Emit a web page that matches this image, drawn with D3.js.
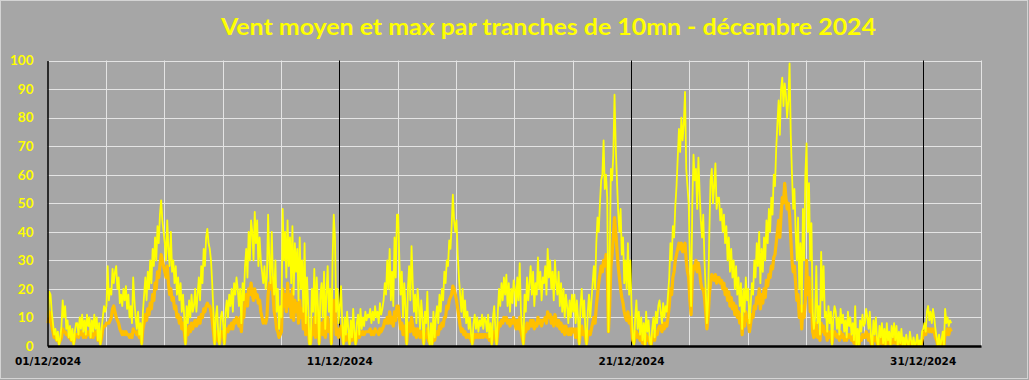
<!DOCTYPE html>
<html><head><meta charset="utf-8">
<script src="https://cdn.jsdelivr.net/npm/d3@7"></script>
<style>html,body{margin:0;padding:0;background:#a6a6a6;overflow:hidden}</style>
</head><body><svg id="c" width="1029" height="380"></svg>
<script>
// Hourly values (24 per day), 1 to 31 December 2024, km/h
const ventMax = [
10,19,18,12,8,4,6,2,5,0,3,7,16,10,14,6,9,3,7,2,6,0,5,8,
8,4,10,6,11,5,9,4,11,7,10,3,9,5,11,6,10,2,8,0,6,10,14,12,
14,28,16,20,18,27,22,26,28,20,24,15,18,14,20,16,21,13,18,10,14,8,24,16,
10,6,12,4,8,0,12,18,24,16,26,20,30,22,34,28,38,30,42,36,46,51,44,40,
36,30,44,34,28,40,26,30,22,28,18,24,16,22,12,18,10,0,14,8,16,10,18,12,
14,20,12,18,24,16,28,22,34,28,38,41,36,34,30,22,12,0,10,14,4,0,10,12,
8,0,12,16,10,18,14,20,12,22,18,24,20,14,20,8,22,16,28,34,24,40,30,44,
40,30,47,36,44,28,38,30,26,22,28,20,24,46,30,22,40,24,18,30,12,20,6,14,
10,48,30,40,24,44,28,38,22,42,18,36,26,34,16,38,20,30,12,36,8,24,14,0,
0,20,12,27,8,24,14,0,18,22,10,26,6,18,28,12,20,0,30,46,38,12,20,8,
14,21,8,0,10,4,12,6,0,9,3,13,5,0,8,11,4,13,6,10,7,12,9,11,
10,13,8,12,9,14,10,12,8,15,11,13,16,22,18,30,20,34,16,26,14,38,24,46,
46,30,18,26,10,22,14,0,20,28,16,35,22,12,18,8,20,14,6,16,10,0,12,8,
19,4,0,8,0,12,3,10,14,8,18,12,20,16,26,22,30,28,37,34,42,53,44,40,
44,32,24,18,12,20,10,16,8,12,6,10,4,0,8,11,6,10,5,9,7,11,6,10,
9,5,11,3,8,0,10,14,6,0,12,20,14,22,16,24,18,25,14,22,12,20,15,23,
20,14,24,16,29,12,6,0,18,12,24,16,22,28,18,26,14,22,18,31,20,26,16,24,
22,28,18,34,24,30,20,26,16,30,22,18,26,14,22,12,20,10,18,14,8,16,10,18,
12,18,8,16,10,0,14,20,10,16,6,0,12,18,10,16,22,28,20,36,45,40,50,58,
60,72,55,60,52,5,30,62,58,67,88,70,58,47,40,48,32,38,22,30,20,36,18,30,
14,3,0,10,16,6,12,4,10,2,8,0,12,5,9,2,0,6,10,3,12,8,14,16,
12,8,15,10,14,12,18,24,36,30,42,38,49,56,66,76,68,80,72,78,89,62,56,50,
30,14,50,67,58,62,48,66,54,44,38,46,30,20,8,16,40,58,62,50,56,64,48,52,
52,44,48,40,46,36,42,30,38,26,34,24,30,20,28,18,24,14,22,6,20,12,24,16,
20,8,14,22,18,30,24,36,28,40,22,34,26,38,30,44,36,48,40,52,46,60,56,69,
78,86,74,90,94,84,92,88,80,86,99,74,60,48,55,40,30,45,20,36,12,48,30,60,
71,40,57,30,43,12,6,10,28,8,14,4,33,16,28,10,12,5,14,8,12,0,10,14,
12,6,10,4,13,8,11,5,9,3,12,7,10,4,8,2,14,0,6,0,9,5,11,7,
8,13,10,6,12,3,0,9,4,10,2,0,7,3,8,1,6,0,8,2,5,0,7,3,
8,2,7,0,5,1,6,0,3,0,4,1,0,5,2,0,3,0,1,4,0,2,0,5,
6,8,5,12,14,9,12,8,13,10,6,3,0,4,0,2,5,0,13,8,10,7,9,8
];
const ventMoyen = [
8,12,10,7,5,3,4,2,3,1,2,3,6,5,5,4,4,3,3,2,3,1,3,4,
4,3,5,4,5,3,4,3,5,4,5,3,4,3,5,4,5,2,4,1,3,6,7,7,
8,8,8,9,10,13,14,12,10,9,8,6,5,4,5,4,5,4,4,3,4,3,6,5,
5,4,5,3,4,1,6,8,11,9,13,11,15,13,18,16,22,20,26,24,28,32,30,28,
26,24,28,22,18,20,16,17,13,14,10,11,8,10,6,8,5,1,6,4,7,5,8,6,
8,9,7,8,10,8,11,10,13,12,14,15,14,14,12,9,5,1,4,5,2,1,4,5,
4,1,5,6,5,7,6,8,6,9,8,10,9,7,10,5,12,10,16,18,14,20,18,22,
18,16,20,17,18,15,16,12,10,8,9,8,10,18,22,20,24,18,12,10,6,5,3,4,
5,20,14,18,12,22,14,18,10,20,9,16,12,15,8,16,10,13,6,14,4,10,6,1,
1,6,4,10,3,14,6,1,6,8,4,9,3,6,10,5,7,1,10,16,14,4,6,3,
5,7,4,1,4,2,4,3,1,4,2,5,3,1,3,5,3,5,4,5,4,5,5,5,
5,6,4,5,4,6,5,5,4,6,5,6,7,9,8,10,8,12,8,10,7,12,9,14,
14,10,6,8,4,7,5,1,6,8,5,10,7,4,6,3,6,5,3,5,4,1,4,3,
6,2,1,3,1,4,2,4,5,4,7,6,8,7,10,10,14,13,16,17,18,21,20,18,
16,13,10,7,5,6,4,5,3,4,3,4,2,1,3,4,3,4,3,4,3,4,3,4,
4,3,4,2,3,1,4,5,3,1,5,8,7,9,8,10,9,10,8,9,7,9,8,10,
8,6,9,6,10,5,3,1,6,5,8,6,7,9,7,9,6,8,7,10,8,9,7,9,
9,10,8,12,10,11,8,10,7,11,9,7,9,6,8,5,7,4,7,5,4,6,4,6,
5,6,3,6,4,1,5,7,4,5,3,1,4,5,4,6,8,10,8,14,18,22,25,28,
26,30,28,32,28,5,14,28,32,38,45,40,34,28,24,20,17,15,12,10,9,12,8,10,
6,2,1,4,5,3,4,2,4,1,3,0,4,2,3,1,0,3,4,2,5,4,6,7,
7,5,8,6,8,7,10,14,20,18,24,26,30,32,34,36,34,36,33,34,36,30,26,24,
16,11,24,28,27,30,26,29,26,22,20,20,17,12,6,10,18,22,25,24,23,25,22,24,
24,22,23,20,22,18,20,16,19,14,17,13,15,11,14,10,12,8,11,4,10,7,12,9,
9,5,8,11,10,14,13,17,15,20,13,18,15,20,17,23,21,25,24,28,27,31,32,36,
40,44,38,46,52,50,57,52,48,50,46,38,30,26,28,22,16,18,10,14,6,14,10,16,
30,18,24,12,16,5,3,4,8,3,5,2,8,5,7,4,5,2,5,3,5,1,4,5,
4,3,4,2,5,3,4,2,3,2,4,3,4,2,3,1,5,0,2,0,3,2,4,3,
3,5,4,2,4,1,0,3,2,3,1,0,2,1,3,0,2,0,3,1,2,0,2,1,
3,1,3,0,2,0,2,0,1,0,1,0,0,2,1,0,1,0,0,1,0,1,0,2,
4,5,4,6,6,5,6,5,6,5,3,2,0,2,0,1,3,0,5,4,6,4,6,5
];
const dateLabels = ["01/12/2024", "11/12/2024", "21/12/2024", "31/12/2024"];
const dateTicks = [0, 10, 20, 30];
const gridDays = [2,4,6,8,10,12,14,16,18,20,22,24,26,28,30,32];
const yTicks = [0,10,20,30,40,50,60,70,80,90,100];
const titleText = "Vent moyen et max par tranches de 10mn - décembre 2024";

const svg = d3.select("#c");
svg.append("rect").attr("x",0.5).attr("y",0.5).attr("width",1027).attr("height",378)
  .attr("fill","#a6a6a6").attr("stroke","#d4d4d4");

const x = d3.scaleLinear().domain([0, 32]).range([47.5, 981]);
const y = d3.scaleLinear().domain([0, 100]).range([346, 60.5]);

// horizontal gridlines
svg.append("g").selectAll("line").data(yTicks.filter(v => v > 0)).join("line")
  .attr("x1", x(0)).attr("x2", x(32))
  .attr("y1", d => Math.round(y(d)) + 0.5).attr("y2", d => Math.round(y(d)) + 0.5)
  .attr("stroke", "#e4e4e4").attr("stroke-width", 1);
// vertical gridlines
svg.append("g").selectAll("line").data(gridDays).join("line")
  .attr("x1", d => Math.round(x(d)) + 0.5).attr("x2", d => Math.round(x(d)) + 0.5)
  .attr("y1", y(100)).attr("y2", y(0))
  .attr("stroke", d => (d % 10 === 0) ? "#000" : "#e4e4e4").attr("stroke-width", 1);

// series
const pts = arr => arr.map((v, i) => [ (i + 0.5) / 24, v ]);
const line = d3.line().x(d => x(d[0])).y(d => y(d[1]));
svg.append("path").datum(pts(ventMoyen)).attr("d", line)
  .attr("fill","none").attr("stroke","#ffc000").attr("stroke-width",3.2).attr("stroke-linejoin","round");
svg.append("path").datum(pts(ventMax)).attr("d", line)
  .attr("fill","none").attr("stroke","#ffff00").attr("stroke-width",1.8).attr("stroke-linejoin","round");

// axes
const yAxis = svg.append("g").attr("transform", `translate(${x(0)},0)`)
  .call(d3.axisLeft(y).tickValues(yTicks).tickSize(0).tickPadding(14));
yAxis.select(".domain").attr("stroke","#000").attr("stroke-width",1.5);
yAxis.selectAll("text").attr("fill","#ffff00").attr("font-family","Lato, 'Open Sans', sans-serif")
  .attr("font-weight","bold").attr("font-size","13.5px");

const xAxis = svg.append("g").attr("transform", `translate(0,${y(0)})`)
  .call(d3.axisBottom(x).tickValues(dateTicks).tickFormat((d, i) => dateLabels[i]).tickSize(0).tickPadding(12));
xAxis.select(".domain").attr("stroke","#000").attr("stroke-width",2.5);
xAxis.selectAll("text").attr("fill","#000").attr("font-family","'DejaVu Sans', Verdana, sans-serif")
  .attr("font-weight","bold").attr("font-size","10.5px");

// title
svg.append("text").attr("x", 548.5).attr("y", 35).attr("text-anchor","middle")
  .attr("font-family","Lato, 'Open Sans', sans-serif").attr("font-weight","bold").attr("font-size","23.5px")
  .attr("fill","#ffff00").attr("textLength", 655).attr("lengthAdjust","spacingAndGlyphs")
  .text(titleText);
</script></body></html>
